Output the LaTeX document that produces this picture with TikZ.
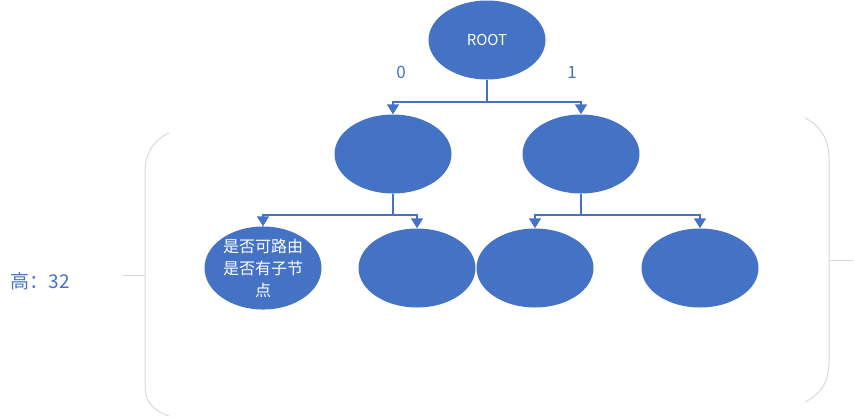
\documentclass[tikz,border=0pt]{standalone}
\usepackage{fontspec}
\newfontfamily\cjk{Noto Sans CJK SC}
\usetikzlibrary{arrows.meta,shapes.geometric}
\definecolor{nodeblue}{HTML}{4472C4}
\definecolor{bracegray}{HTML}{D9D9D9}
\tikzset{
	treenode/.style={ellipse,fill=nodeblue,minimum width=117pt,minimum height=79pt,inner sep=0pt,text=white,font=\cjk\fontsize{16}{22}\selectfont,align=center},
	branch/.style={draw=nodeblue,line width=1.6pt,-{Triangle[width=12pt,length=10pt]}},
	bracket/.style={draw=bracegray,line width=1pt},
	bluetext/.style={text=nodeblue,font=\cjk\fontsize{17}{20}\selectfont}
}
\begin{document}
\begin{tikzpicture}[x=1pt,y=-1pt]
				\useasboundingbox(0,0)rectangle(854,418);
				% tree
				\node[treenode,font=\cjk\fontsize{15}{18}\selectfont](root)at(487,40){ROOT};
				\node[treenode](left)at(393,154){};
				\node[treenode](right)at(581,154){};
				\node[treenode](ll)at(263,268){是否可路由\\是否有子节\\点};
				\node[treenode](lr)at(417,268){};
				\node[treenode](rl)at(535,268){};
				\node[treenode](rr)at(700,268){};
				\draw[branch](root.south)--++(0,22)-|(left.north);
				\draw[branch](root.south)--++(0,22)-|(right.north);
				\draw[branch](left.south)--++(0,21)-|(ll.north);
				\draw[branch](left.south)--++(0,21)-|(lr.north);
				\draw[branch](right.south)--++(0,21)-|(rl.north);
				\draw[branch](right.south)--++(0,21)-|(rr.north);
				\node[bluetext](zero)at(401,72){0};
				\node[bluetext](one)at(572,72){1};
				% brackets
				\draw[bracket](169,133)..controls(152,141)and(145,155)..(145,172)--(145,386)..controls(145,401)and(152,410)..(169,416);
				\draw[bracket](122,275)--(145,275);
				\draw[bracket](805,118)..controls(821,126)and(829,140)..(829,158)--(829,362)..controls(829,382)and(821,394)..(805,402);
				\draw[bracket](829,260)--(853,260);
				\node[bluetext,font=\cjk\fontsize{19}{22}\selectfont,anchor=west](height)at(7,281){高：32};
			\end{tikzpicture}
\end{document}
